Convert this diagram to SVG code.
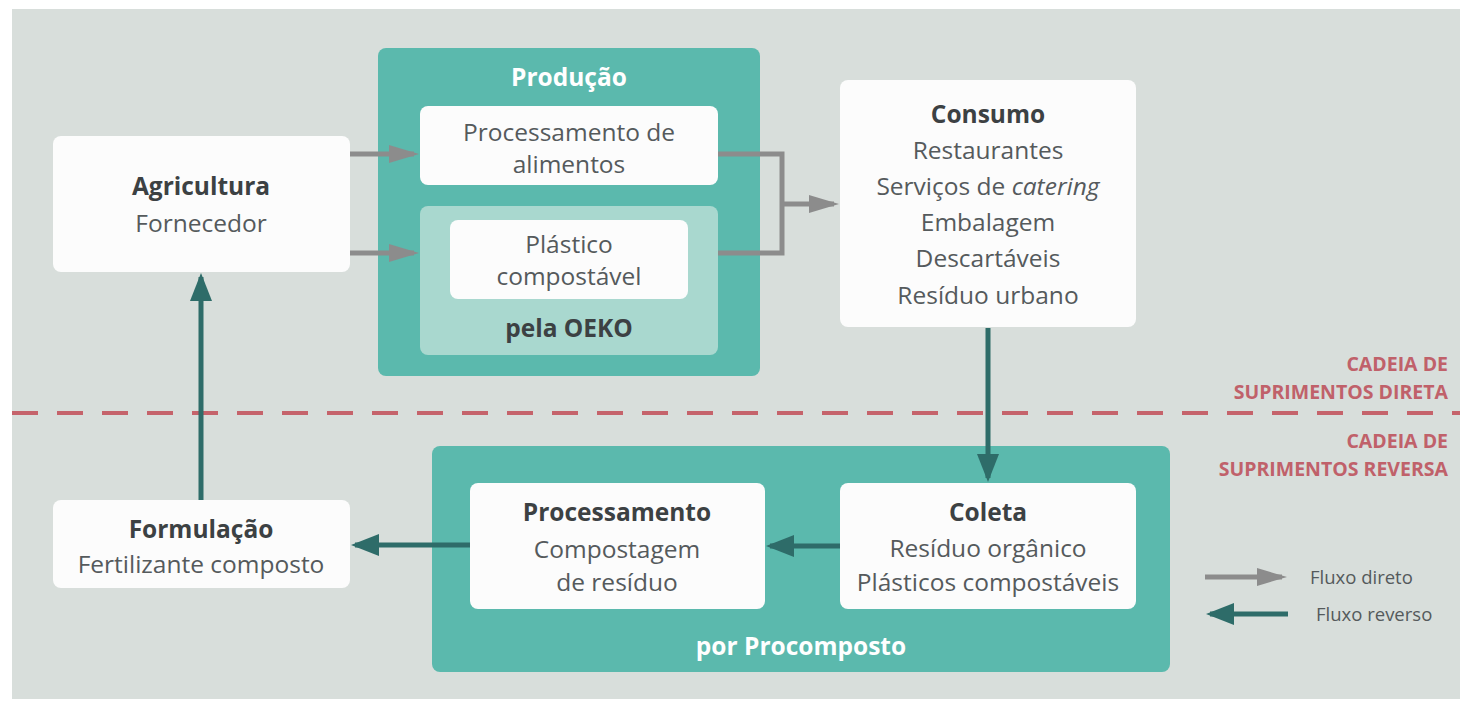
<svg xmlns="http://www.w3.org/2000/svg" width="1460" height="708" viewBox="0 0 1460 708">
<style>
.bg{fill:#d8dedb}
.box{fill:#fcfcfc}
.teal{fill:#5bb9ad}
.light{fill:#a9d8cf}
text{font-family:"Open Sans","Noto Sans",sans-serif;text-anchor:middle}
.t{font-size:24.5px;fill:#555a5c}
.b{font-size:24.5px;font-weight:bold;fill:#3c4143}
.w{font-size:24.5px;font-weight:bold;fill:#ffffff}
.red{font-size:19.5px;font-weight:bold;fill:#c0616a;text-anchor:end}
.leg{font-size:18.5px;fill:#555a5c;text-anchor:start}
.g{stroke:#8c8c8c;stroke-width:5;fill:none}
.d{stroke:#2e6c69;stroke-width:5;fill:none}
</style>
<defs>
<marker id="ag" markerWidth="6" markerHeight="3.6" refX="5" refY="1.8" orient="auto" markerUnits="strokeWidth"><path d="M0,0 L6,1.8 L0,3.6 z" fill="#8c8c8c"/></marker>
<marker id="ad" markerWidth="5.6" markerHeight="4.4" refX="4.8" refY="2.2" orient="auto" markerUnits="strokeWidth"><path d="M0,0 L5.6,2.2 L0,4.4 z" fill="#2e6c69"/></marker>
</defs>
<rect x="0" y="0" width="1460" height="708" fill="#ffffff"/>
<rect class="bg" x="12" y="9" width="1448" height="690"/>

<g id="agricultura">
<rect class="box" x="53" y="136" width="297" height="136" rx="8"/>
<text class="b" x="201" y="195">Agricultura</text>
<text class="t" x="201" y="232">Fornecedor</text>
</g>

<g id="producao">
<rect class="teal" x="378" y="48" width="382" height="328" rx="8"/>
<text class="w" x="569" y="86">Produção</text>
</g>
<g id="processamento-alimentos">
<rect class="box" x="420" y="106" width="298" height="79" rx="8"/>
<text class="t" x="569" y="141">Processamento de</text>
<text class="t" x="569" y="173">alimentos</text>
</g>
<g id="oeko">
<rect class="light" x="420" y="206" width="298" height="149" rx="8"/>
<text class="b" x="569" y="337">pela OEKO</text>
</g>
<g id="plastico">
<rect class="box" x="450" y="220" width="238" height="79" rx="8"/>
<text class="t" x="569" y="253">Plástico</text>
<text class="t" x="569" y="285">compostável</text>
</g>

<g id="consumo">
<rect class="box" x="840" y="80" width="296" height="247" rx="8"/>
<text class="b" x="988" y="123">Consumo</text>
<text class="t" x="988" y="159">Restaurantes</text>
<text class="t" x="988" y="195">Serviços de <tspan font-style="italic">catering</tspan></text>
<text class="t" x="988" y="231">Embalagem</text>
<text class="t" x="988" y="267">Descartáveis</text>
<text class="t" x="988" y="304">Resíduo urbano</text>
</g>

<g id="divisor">
<line x1="12" y1="413" x2="1460" y2="413" stroke="#c5636b" stroke-width="4" stroke-dasharray="26 19"/>
<text class="red" x="1448" y="371">CADEIA DE</text>
<text class="red" x="1448" y="399">SUPRIMENTOS DIRETA</text>
<text class="red" x="1448" y="448">CADEIA DE</text>
<text class="red" x="1448" y="476">SUPRIMENTOS REVERSA</text>
</g>

<g id="procomposto">
<rect class="teal" x="432" y="446" width="738" height="226" rx="8"/>
<text class="w" x="801" y="655">por Procomposto</text>
</g>
<g id="processamento">
<rect class="box" x="470" y="483" width="295" height="126" rx="8"/>
<text class="b" x="617" y="521">Processamento</text>
<text class="t" x="617" y="558">Compostagem</text>
<text class="t" x="617" y="591">de resíduo</text>
</g>
<g id="coleta">
<rect class="box" x="840" y="483" width="296" height="126" rx="8"/>
<text class="b" x="988" y="521">Coleta</text>
<text class="t" x="988" y="557">Resíduo orgânico</text>
<text class="t" x="988" y="591">Plásticos compostáveis</text>
</g>

<g id="formulacao">
<rect class="box" x="53" y="500" width="297" height="88" rx="8"/>
<text class="b" x="201" y="538">Formulação</text>
<text class="t" x="201" y="573">Fertilizante composto</text>
</g>

<g id="connectors">
<line class="g" x1="350" y1="154" x2="414" y2="154" marker-end="url(#ag)"/>
<line class="g" x1="350" y1="253" x2="414" y2="253" marker-end="url(#ag)"/>
<polyline class="g" points="718,154 782,154 782,253 718,253"/>
<line class="g" x1="782" y1="204" x2="834" y2="204" marker-end="url(#ag)"/>
<line class="d" x1="988" y1="328" x2="988" y2="478" marker-end="url(#ad)"/>
<line class="d" x1="840" y1="546" x2="770" y2="546" marker-end="url(#ad)"/>
<line class="d" x1="470" y1="545" x2="355" y2="545" marker-end="url(#ad)"/>
<line class="d" x1="201" y1="500" x2="201" y2="277" marker-end="url(#ad)"/>
</g>

<g id="legenda">
<line class="g" x1="1205" y1="577" x2="1282" y2="577" marker-end="url(#ag)"/>
<text class="leg" x="1310" y="584">Fluxo direto</text>
<line class="d" x1="1288" y1="614" x2="1210" y2="614" marker-end="url(#ad)"/>
<text class="leg" x="1316" y="621">Fluxo reverso</text>
</g>
</svg>
